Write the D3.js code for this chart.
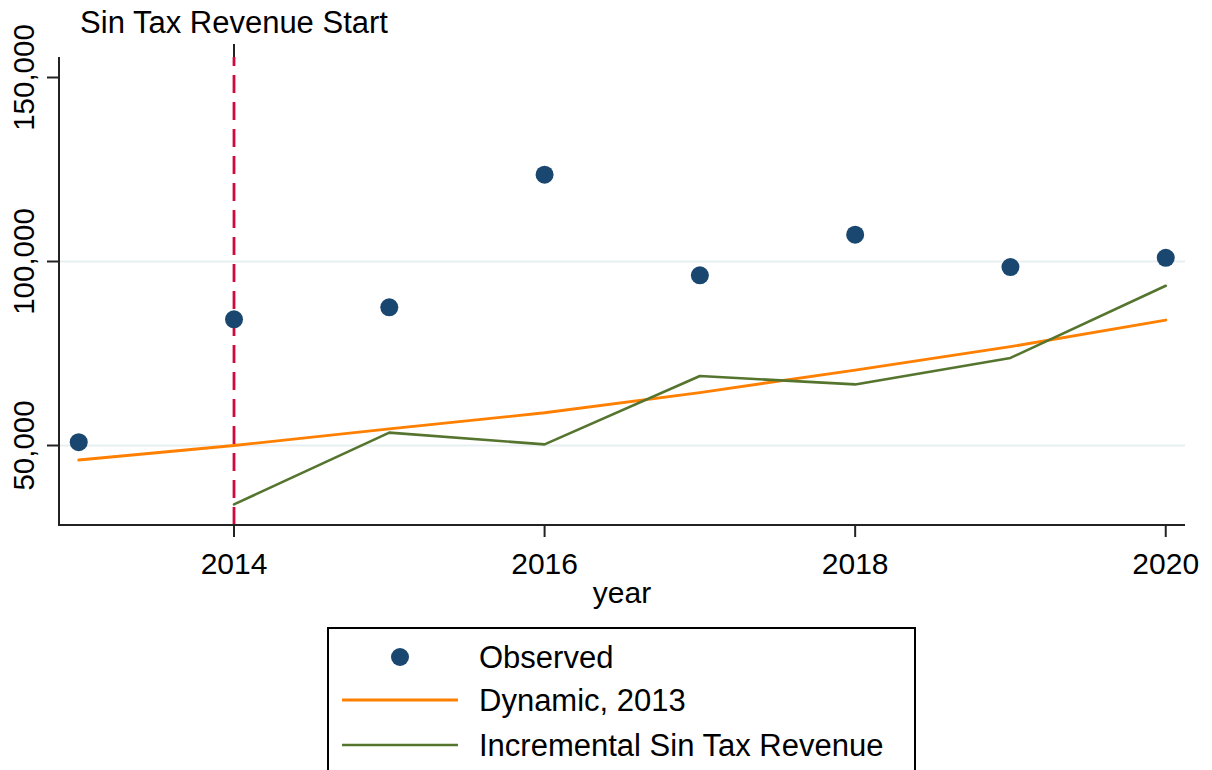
<!DOCTYPE html>
<html>
<head>
<meta charset="utf-8">
<script src="https://cdn.jsdelivr.net/npm/d3@7"></script>
<style>
  html, body { margin: 0; padding: 0; background: #fff; }
  svg { display: block; }
  text { font-family: Arial, "Liberation Sans", sans-serif; fill: #000; }
</style>
</head>
<body>
<svg id="chart" width="1212" height="770"></svg>
<script>
// ---- data ----
const years = [2013, 2014, 2015, 2016, 2017, 2018, 2019, 2020];
const observed = [50900, 84300, 87550, 123600, 96250, 107300, 98500, 101000];
const dynamic2013 = [46060, 50000, 54500, 58900, 64400, 70500, 76850, 84100];
const incYears = [2014, 2015, 2016, 2017, 2018, 2019, 2020];
const incremental = [34000, 53500, 50300, 68900, 66600, 73800, 93400];
const xTicks = [2014, 2016, 2018, 2020];
const yTicks = [50000, 100000, 150000];
const gridTicks = [50000, 100000];
const startYear = 2014;
const startLabel = "Sin Tax Revenue Start";
const xTitle = "year";
const legendLabels = ["Observed", "Dynamic, 2013", "Incremental Sin Tax Revenue"];

// ---- layout ----
const svg = d3.select("#chart");
const L = 59, R = 1185, T = 57, B = 525;
const x = d3.scaleLinear().domain([2012.873, 2020.124]).range([L, R]);
const y = d3.scaleLinear().domain([28400, 155570]).range([B, T]);

const cNavy = "#1a476f", cOrange = "#ff8000", cGreen = "#55752f", cRed = "#d00a3c";
const fmt = d3.format(",");

// gridlines
svg.append("g").selectAll("line").data(gridTicks).join("line")
  .attr("x1", L).attr("x2", R)
  .attr("y1", d => y(d)).attr("y2", d => y(d))
  .attr("stroke", "#e8eff2").attr("stroke-width", 2);

// vertical dashed line at start year
svg.append("line")
  .attr("x1", x(startYear)).attr("x2", x(startYear))
  .attr("y1", B).attr("y2", T)
  .attr("stroke", cRed).attr("stroke-width", 2.8)
  .attr("stroke-dasharray", "18,9");

// top axis tick + label
svg.append("line")
  .attr("x1", x(startYear)).attr("x2", x(startYear))
  .attr("y1", T - 13).attr("y2", T)
  .attr("stroke", "#222").attr("stroke-width", 2);
svg.append("text")
  .attr("x", x(startYear)).attr("y", 33)
  .attr("text-anchor", "middle").attr("font-size", 31)
  .text(startLabel);

// lines
const lineGen = d3.line().x(d => x(d[0])).y(d => y(d[1]));
svg.append("path")
  .datum(years.map((yr, i) => [yr, dynamic2013[i]]))
  .attr("d", lineGen).attr("fill", "none")
  .attr("stroke", cOrange).attr("stroke-width", 2.8)
  .attr("stroke-linejoin", "round").attr("stroke-linecap", "round");
svg.append("path")
  .datum(incYears.map((yr, i) => [yr, incremental[i]]))
  .attr("d", lineGen).attr("fill", "none")
  .attr("stroke", cGreen).attr("stroke-width", 2.6)
  .attr("stroke-linejoin", "round").attr("stroke-linecap", "round");

// observed points
svg.append("g").selectAll("circle").data(years.map((yr, i) => [yr, observed[i]])).join("circle")
  .attr("cx", d => x(d[0])).attr("cy", d => y(d[1]))
  .attr("r", 9).attr("fill", cNavy);

// axes
const axisColor = "#222";
svg.append("line").attr("x1", L).attr("x2", L).attr("y1", T).attr("y2", B + 1)
  .attr("stroke", axisColor).attr("stroke-width", 2);
svg.append("line").attr("x1", L - 1).attr("x2", R).attr("y1", B).attr("y2", B)
  .attr("stroke", axisColor).attr("stroke-width", 2);

// y ticks
const yt = svg.append("g");
yt.selectAll("line").data(yTicks).join("line")
  .attr("x1", L - 12).attr("x2", L)
  .attr("y1", d => y(d)).attr("y2", d => y(d))
  .attr("stroke", axisColor).attr("stroke-width", 2);
yt.selectAll("text").data(yTicks).join("text")
  .attr("transform", d => `translate(33.5,${y(d)}) rotate(-90)`)
  .attr("text-anchor", "middle").attr("font-size", 29.5)
  .text(d => fmt(d));

// x ticks
const xt = svg.append("g");
xt.selectAll("line").data(xTicks).join("line")
  .attr("x1", d => x(d)).attr("x2", d => x(d))
  .attr("y1", B).attr("y2", B + 12)
  .attr("stroke", axisColor).attr("stroke-width", 2);
xt.selectAll("text").data(xTicks).join("text")
  .attr("x", d => x(d)).attr("y", 573.5)
  .attr("text-anchor", "middle").attr("font-size", 30)
  .text(d => d);

svg.append("text").attr("x", (L + R) / 2).attr("y", 603)
  .attr("text-anchor", "middle").attr("font-size", 30).text(xTitle);

// legend
const lg = svg.append("g");
lg.append("rect").attr("x", 328).attr("y", 628).attr("width", 587).attr("height", 200)
  .attr("fill", "#fff").attr("stroke", "#000").attr("stroke-width", 2);
const rowY = [657, 700, 745];
lg.append("circle").attr("cx", 400).attr("cy", rowY[0]).attr("r", 9).attr("fill", cNavy);
lg.append("line").attr("x1", 342).attr("x2", 458).attr("y1", rowY[1]).attr("y2", rowY[1])
  .attr("stroke", cOrange).attr("stroke-width", 2.8);
lg.append("line").attr("x1", 342).attr("x2", 458).attr("y1", rowY[2]).attr("y2", rowY[2])
  .attr("stroke", cGreen).attr("stroke-width", 2.6);
lg.selectAll("text.lab").data(legendLabels).join("text")
  .attr("class", "lab")
  .attr("x", 479).attr("y", (d, i) => rowY[i] + 11)
  .attr("font-size", 31).text(d => d);
</script>
</body>
</html>
